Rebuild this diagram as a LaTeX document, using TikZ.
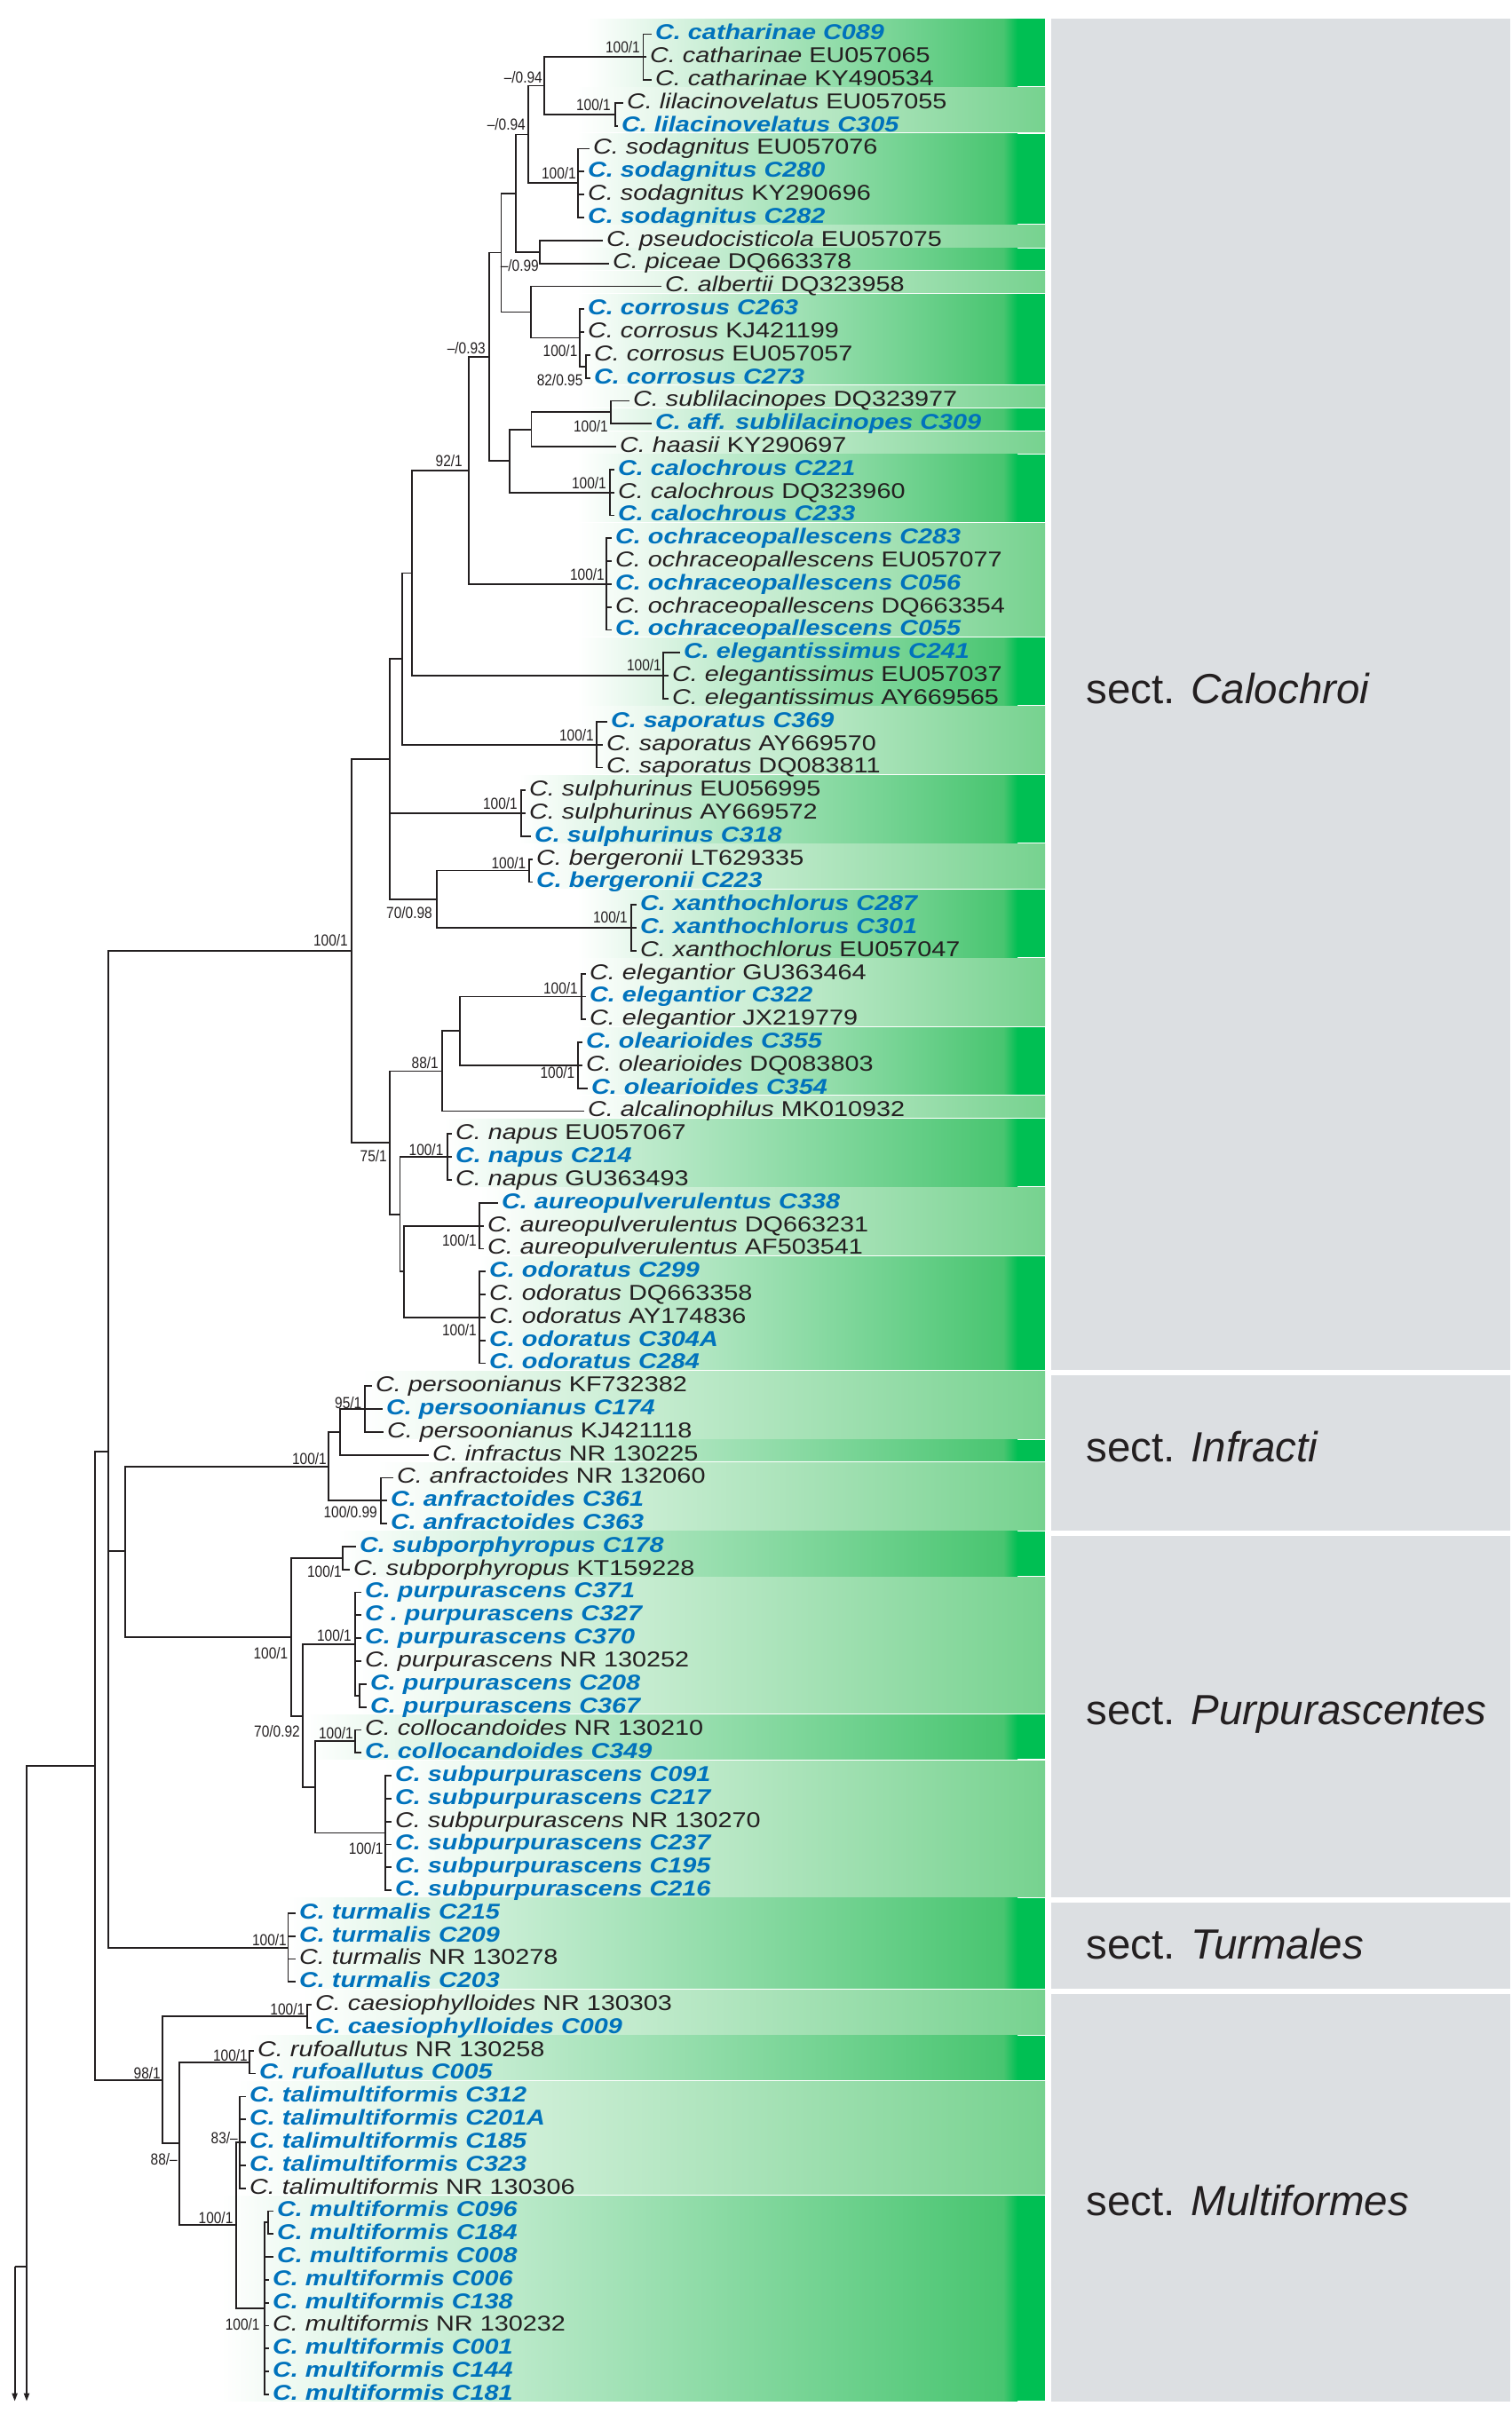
\documentclass[tikz,border=0pt]{standalone}
\usepackage{fontspec}
\setmainfont{Liberation Sans}
\newfontfamily\leaffam{Liberation Sans}[FakeStretch=1.19]
\newfontfamily\suppfam{Liberation Sans}[FakeStretch=0.86]
\usetikzlibrary{arrows.meta}

\definecolor{ink}{RGB}{35,31,32}
\definecolor{cblue}{RGB}{0,114,188}
\definecolor{gdark}{RGB}{0,191,83}
\definecolor{gmid}{RGB}{72,197,112}
\definecolor{glight}{RGB}{118,210,143}
\definecolor{panelgray}{RGB}{220,223,226}

\newcommand{\taxon}[2]{\textit{C. #1} #2}
\newcommand{\isolate}[2]{\textcolor{cblue}{\bfseries\itshape C. #1 #2}}
\newcommand{\darkband}[3]{%
  \shade[left color=white, right color=gmid] ({#1},{#2-0.66}) rectangle (1130,{#3+0.28});
  \shade[left color=gmid, right color=gdark] (1130,{#2-0.66}) rectangle (1146,{#3+0.28});
  \fill[gdark] (1146,{#2-0.66}) rectangle (1177,{#3+0.28});}
\newcommand{\lightband}[3]{%
  \shade[left color=white, right color=glight] ({#1},{#2-0.66}) rectangle (1177,{#3+0.28});}

\begin{document}
\fontsize{24.2}{26}\selectfont
\begin{tikzpicture}[
        x=1pt, y=-25.81pt,
        leaf/.style={anchor=mid west, inner xsep=4pt, inner ysep=0pt, text=ink,
            font=\leaffam\fontsize{24.2}{26}\selectfont},
        supp/.style={anchor=east, inner sep=0pt, text=ink,
            font=\suppfam\fontsize{18}{19}\selectfont},
        sect/.style={anchor=base west, inner sep=0pt, text=ink,
            font=\fontsize{47.5}{50}\selectfont},
        branch/.style={draw=ink, line width=1.8pt},
        >={Triangle[length=9pt, width=6pt]},
    ]
    \useasboundingbox (0,-0.4917) rectangle (1703,104.856);

    % section panels
    \fill[panelgray] (1184,0.31) rectangle (1701,59.29);
    \fill[panelgray] (1184,59.52) rectangle (1701,66.29);
    \fill[panelgray] (1184,66.52) rectangle (1701,82.29);
    \fill[panelgray] (1184,82.52) rectangle (1701,86.29);
    \fill[panelgray] (1184,86.52) rectangle (1701,104.31);
    \node[sect] (secCal) at (1223.5,30.22) {sect. \textit{Calochroi}};
    \node[sect] (secInf) at (1223.5,63.31) {sect. \textit{Infracti}};
    \node[sect] (secPur) at (1223.5,74.78) {sect. \textit{Purpurascentes}};
    \node[sect] (secTur) at (1223.5,85.01) {sect. \textit{Turmales}};
    \node[sect] (secMul) at (1223.5,96.18) {sect. \textit{Multiformes}};

    % species bands
    \darkband{660}{1}{3}
    \lightband{650}{4}{5}
    \darkband{650}{6}{9}
    \lightband{650}{10}{10}
    \darkband{650}{11}{11}
    \lightband{650}{12}{12}
    \darkband{650}{13}{16}
    \lightband{650}{17}{17}
    \darkband{650}{18}{18}
    \lightband{650}{19}{19}
    \darkband{650}{20}{22}
    \lightband{650}{23}{27}
    \darkband{650}{28}{30}
    \lightband{650}{31}{33}
    \darkband{585}{34}{36}
    \lightband{595}{37}{38}
    \darkband{650}{39}{41}
    \lightband{650}{42}{44}
    \darkband{650}{45}{47}
    \lightband{650}{48}{48}
    \darkband{500}{49}{51}
    \lightband{540}{52}{54}
    \darkband{540}{55}{59}
    \lightband{408}{60}{62}
    \darkband{480}{63}{63}
    \lightband{425}{64}{66}
    \darkband{381}{67}{68}
    \lightband{400}{69}{74}
    \darkband{343}{75}{76}
    \lightband{432}{77}{82}
    \darkband{324}{83}{86}
    \lightband{340}{87}{88}
    \darkband{280}{89}{90}
    \lightband{268}{91}{95}
    \darkband{249}{96}{104}

    % leaves
    \node[leaf] (l1)   at (734,1)   {\isolate{catharinae}{C089}};
    \node[leaf] (l2)   at (728,2)   {\taxon{catharinae}{EU057065}};
    \node[leaf] (l3)   at (734,3)   {\taxon{catharinae}{KY490534}};
    \node[leaf] (l4)   at (702,4)   {\taxon{lilacinovelatus}{EU057055}};
    \node[leaf] (l5)   at (696,5)   {\isolate{lilacinovelatus}{C305}};
    \node[leaf] (l6)   at (664,6)   {\taxon{sodagnitus}{EU057076}};
    \node[leaf] (l7)   at (658,7)   {\isolate{sodagnitus}{C280}};
    \node[leaf] (l8)   at (658,8)   {\taxon{sodagnitus}{KY290696}};
    \node[leaf] (l9)   at (658,9)   {\isolate{sodagnitus}{C282}};
    \node[leaf] (l10)  at (679,10)  {\taxon{pseudocisticola}{EU057075}};
    \node[leaf] (l11)  at (686,11)  {\taxon{piceae}{DQ663378}};
    \node[leaf] (l12)  at (745,12)  {\taxon{albertii}{DQ323958}};
    \node[leaf] (l13)  at (658,13)  {\isolate{corrosus}{C263}};
    \node[leaf] (l14)  at (658,14)  {\taxon{corrosus}{KJ421199}};
    \node[leaf] (l15)  at (665,15)  {\taxon{corrosus}{EU057057}};
    \node[leaf] (l16)  at (665,16)  {\isolate{corrosus}{C273}};
    \node[leaf] (l17)  at (709,17)  {\taxon{sublilacinopes}{DQ323977}};
    \node[leaf] (l18)  at (734,18)  {\isolate{aff. sublilacinopes}{C309}};
    \node[leaf] (l19)  at (694,19)  {\taxon{haasii}{KY290697}};
    \node[leaf] (l20)  at (692,20)  {\isolate{calochrous}{C221}};
    \node[leaf] (l21)  at (692,21)  {\taxon{calochrous}{DQ323960}};
    \node[leaf] (l22)  at (692,22)  {\isolate{calochrous}{C233}};
    \node[leaf] (l23)  at (689,23)  {\isolate{ochraceopallescens}{C283}};
    \node[leaf] (l24)  at (689,24)  {\taxon{ochraceopallescens}{EU057077}};
    \node[leaf] (l25)  at (689,25)  {\isolate{ochraceopallescens}{C056}};
    \node[leaf] (l26)  at (689,26)  {\taxon{ochraceopallescens}{DQ663354}};
    \node[leaf] (l27)  at (689,27)  {\isolate{ochraceopallescens}{C055}};
    \node[leaf] (l28)  at (766,28)  {\isolate{elegantissimus}{C241}};
    \node[leaf] (l29)  at (753,29)  {\taxon{elegantissimus}{EU057037}};
    \node[leaf] (l30)  at (753,30)  {\taxon{elegantissimus}{AY669565}};
    \node[leaf] (l31)  at (684,31)  {\isolate{saporatus}{C369}};
    \node[leaf] (l32)  at (679,32)  {\taxon{saporatus}{AY669570}};
    \node[leaf] (l33)  at (679,33)  {\taxon{saporatus}{DQ083811}};
    \node[leaf] (l34)  at (592,34)  {\taxon{sulphurinus}{EU056995}};
    \node[leaf] (l35)  at (592,35)  {\taxon{sulphurinus}{AY669572}};
    \node[leaf] (l36)  at (598,36)  {\isolate{sulphurinus}{C318}};
    \node[leaf] (l37)  at (600,37)  {\taxon{bergeronii}{LT629335}};
    \node[leaf] (l38)  at (600,38)  {\isolate{bergeronii}{C223}};
    \node[leaf] (l39)  at (717,39)  {\isolate{xanthochlorus}{C287}};
    \node[leaf] (l40)  at (717,40)  {\isolate{xanthochlorus}{C301}};
    \node[leaf] (l41)  at (717,41)  {\taxon{xanthochlorus}{EU057047}};
    \node[leaf] (l42)  at (660,42)  {\taxon{elegantior}{GU363464}};
    \node[leaf] (l43)  at (660,43)  {\isolate{elegantior}{C322}};
    \node[leaf] (l44)  at (660,44)  {\taxon{elegantior}{JX219779}};
    \node[leaf] (l45)  at (656,45)  {\isolate{olearioides}{C355}};
    \node[leaf] (l46)  at (656,46)  {\taxon{olearioides}{DQ083803}};
    \node[leaf] (l47)  at (662,47)  {\isolate{olearioides}{C354}};
    \node[leaf] (l48)  at (658,48)  {\taxon{alcalinophilus}{MK010932}};
    \node[leaf] (l49)  at (509,49)  {\taxon{napus}{EU057067}};
    \node[leaf] (l50)  at (509,50)  {\isolate{napus}{C214}};
    \node[leaf] (l51)  at (509,51)  {\taxon{napus}{GU363493}};
    \node[leaf] (l52)  at (561,52)  {\isolate{aureopulverulentus}{C338}};
    \node[leaf] (l53)  at (545,53)  {\taxon{aureopulverulentus}{DQ663231}};
    \node[leaf] (l54)  at (545,54)  {\taxon{aureopulverulentus}{AF503541}};
    \node[leaf] (l55)  at (547,55)  {\isolate{odoratus}{C299}};
    \node[leaf] (l56)  at (547,56)  {\taxon{odoratus}{DQ663358}};
    \node[leaf] (l57)  at (547,57)  {\taxon{odoratus}{AY174836}};
    \node[leaf] (l58)  at (547,58)  {\isolate{odoratus}{C304A}};
    \node[leaf] (l59)  at (547,59)  {\isolate{odoratus}{C284}};
    \node[leaf] (l60)  at (419,60)  {\taxon{persoonianus}{KF732382}};
    \node[leaf] (l61)  at (431,61)  {\isolate{persoonianus}{C174}};
    \node[leaf] (l62)  at (432,62)  {\taxon{persoonianus}{KJ421118}};
    \node[leaf] (l63)  at (483,63)  {\taxon{infractus}{NR 130225}};
    \node[leaf] (l64)  at (443,64)  {\taxon{anfractoides}{NR 132060}};
    \node[leaf] (l65)  at (436,65)  {\isolate{anfractoides}{C361}};
    \node[leaf] (l66)  at (436,66)  {\isolate{anfractoides}{C363}};
    \node[leaf] (l67)  at (401,67)  {\isolate{subporphyropus}{C178}};
    \node[leaf] (l68)  at (394,68)  {\taxon{subporphyropus}{KT159228}};
    \node[leaf] (l69)  at (407,69)  {\isolate{purpurascens}{C371}};
    \node[leaf] (l70)  at (407,70)  {\textcolor{cblue}{\bfseries\itshape C . purpurascens C327}};
    \node[leaf] (l71)  at (407,71)  {\isolate{purpurascens}{C370}};
    \node[leaf] (l72)  at (407,72)  {\taxon{purpurascens}{NR 130252}};
    \node[leaf] (l73)  at (413,73)  {\isolate{purpurascens}{C208}};
    \node[leaf] (l74)  at (413,74)  {\isolate{purpurascens}{C367}};
    \node[leaf] (l75)  at (407,75)  {\taxon{collocandoides}{NR 130210}};
    \node[leaf] (l76)  at (407,76)  {\isolate{collocandoides}{C349}};
    \node[leaf] (l77)  at (441,77)  {\isolate{subpurpurascens}{C091}};
    \node[leaf] (l78)  at (441,78)  {\isolate{subpurpurascens}{C217}};
    \node[leaf] (l79)  at (441,79)  {\taxon{subpurpurascens}{NR 130270}};
    \node[leaf] (l80)  at (441,80)  {\isolate{subpurpurascens}{C237}};
    \node[leaf] (l81)  at (441,81)  {\isolate{subpurpurascens}{C195}};
    \node[leaf] (l82)  at (441,82)  {\isolate{subpurpurascens}{C216}};
    \node[leaf] (l83)  at (333,83)  {\isolate{turmalis}{C215}};
    \node[leaf] (l84)  at (333,84)  {\isolate{turmalis}{C209}};
    \node[leaf] (l85)  at (333,85)  {\taxon{turmalis}{NR 130278}};
    \node[leaf] (l86)  at (333,86)  {\isolate{turmalis}{C203}};
    \node[leaf] (l87)  at (351,87)  {\taxon{caesiophylloides}{NR 130303}};
    \node[leaf] (l88)  at (351,88)  {\isolate{caesiophylloides}{C009}};
    \node[leaf] (l89)  at (286,89)  {\taxon{rufoallutus}{NR 130258}};
    \node[leaf] (l90)  at (288,90)  {\isolate{rufoallutus}{C005}};
    \node[leaf] (l91)  at (277,91)  {\isolate{talimultiformis}{C312}};
    \node[leaf] (l92)  at (277,92)  {\isolate{talimultiformis}{C201A}};
    \node[leaf] (l93)  at (277,93)  {\isolate{talimultiformis}{C185}};
    \node[leaf] (l94)  at (277,94)  {\isolate{talimultiformis}{C323}};
    \node[leaf] (l95)  at (277,95)  {\taxon{talimultiformis}{NR 130306}};
    \node[leaf] (l96)  at (308,96)  {\isolate{multiformis}{C096}};
    \node[leaf] (l97)  at (308,97)  {\isolate{multiformis}{C184}};
    \node[leaf] (l98)  at (308,98)  {\isolate{multiformis}{C008}};
    \node[leaf] (l99)  at (303,99)  {\isolate{multiformis}{C006}};
    \node[leaf] (l100) at (303,100) {\isolate{multiformis}{C138}};
    \node[leaf] (l101) at (303,101) {\taxon{multiformis}{NR 130232}};
    \node[leaf] (l102) at (303,102) {\isolate{multiformis}{C001}};
    \node[leaf] (l103) at (303,103) {\isolate{multiformis}{C144}};
    \node[leaf] (l104) at (303,104) {\isolate{multiformis}{C181}};

    % internal nodes
    \coordinate (cath)      at (724.5,2);
    \coordinate (lila)      at (693,4.5);
    \coordinate (n1)        at (613,3.25);
    \coordinate (soda)      at (651,7.5);
    \coordinate (n2)        at (595,5.375);
    \coordinate (n3)        at (608,10.5);
    \coordinate (n4)        at (581,7.94);
    \coordinate (corr2)     at (660,15.5);
    \coordinate (corr)      at (653,14.25);
    \coordinate (n5)        at (598,13.125);
    \coordinate (n6)        at (564.5,10.53);
    \coordinate (subl)      at (688,17.5);
    \coordinate (n7)        at (598.5,18.25);
    \coordinate (calo)      at (687,21);
    \coordinate (n8)        at (573.6,19.63);
    \coordinate (n9)        at (551,15.08);
    \coordinate (ochr)      at (683,25);
    \coordinate (n10)       at (528,20.04);
    \coordinate (elgs)      at (747,29);
    \coordinate (n11)       at (464,24.52);
    \coordinate (sapo)      at (672,32);
    \coordinate (n12)       at (453,28.26);
    \coordinate (sulp)      at (587,35);
    \coordinate (berg)      at (596,37.5);
    \coordinate (xant)      at (711,40);
    \coordinate (n13)       at (492,38.75);
    \coordinate (n14)       at (439,32.63);
    \coordinate (elgt)      at (655,43);
    \coordinate (olea)      at (651,46);
    \coordinate (n15)       at (518,44.5);
    \coordinate (n16)       at (498,46.25);
    \coordinate (napu)      at (504,50);
    \coordinate (aure)      at (540,53);
    \coordinate (odor)      at (540,57);
    \coordinate (n17)       at (455,55);
    \coordinate (n18)       at (450.5,52.5);
    \coordinate (n19)       at (439,49.375);
    \coordinate (calochroi) at (396,41);
    \coordinate (pers)      at (411,61);
    \coordinate (n20)       at (383,62);
    \coordinate (anfr)      at (429,65);
    \coordinate (infracti)  at (370,63.5);
    \coordinate (subp)      at (386,67.5);
    \coordinate (purp2)     at (405,73.5);
    \coordinate (purp)      at (400,71.25);
    \coordinate (coll)      at (400,75.5);
    \coordinate (subu)      at (434,79.5);
    \coordinate (n21)       at (355,77.5);
    \coordinate (n22)       at (341,74.4);
    \coordinate (purpura)   at (328,70.95);
    \coordinate (n23)       at (141,67.2);
    \coordinate (turm)      at (324.5,84.5);
    \coordinate (n24)       at (122,62.86);
    \coordinate (caes)      at (346,87.5);
    \coordinate (rufo)      at (281,89.5);
    \coordinate (tali)      at (270,93);
    \coordinate (mult2)     at (302,96.5);
    \coordinate (mult)      at (298,100.25);
    \coordinate (n25)       at (266,96.6);
    \coordinate (n26)       at (202,93.05);
    \coordinate (multif)    at (183,90.28);
    \coordinate (n27)       at (107,76.57);
    \coordinate (root)      at (30,98.42);
    \coordinate (base)      at (16.6,98.42);
    \coordinate (out1)      at (30,104.3);
    \coordinate (out2)      at (16.6,104.3);

    % branches
    \draw[branch] (cath) |- (l1.mid west) (cath) |- (l2.mid west) (cath) |- (l3.mid west);
    \draw[branch] (lila) |- (l4.mid west) (lila) |- (l5.mid west);
    \draw[branch] (n1) |- (cath) (n1) |- (lila);
    \draw[branch] (soda) |- (l6.mid west) (soda) |- (l7.mid west) (soda) |- (l8.mid west) (soda) |- (l9.mid west);
    \draw[branch] (n2) |- (n1) (n2) |- (soda);
    \draw[branch] (n3) |- (l10.mid west) (n3) |- (l11.mid west);
    \draw[branch] (n4) |- (n2) (n4) |- (n3);
    \draw[branch] (corr2) |- (l15.mid west) (corr2) |- (l16.mid west);
    \draw[branch] (corr) |- (l13.mid west) (corr) |- (l14.mid west) (corr) |- (corr2);
    \draw[branch] (n5) |- (l12.mid west) (n5) |- (corr);
    \draw[branch] (n6) |- (n4) (n6) |- (n5);
    \draw[branch] (subl) |- (l17.mid west) (subl) |- (l18.mid west);
    \draw[branch] (n7) |- (subl) (n7) |- (l19.mid west);
    \draw[branch] (calo) |- (l20.mid west) (calo) |- (l21.mid west) (calo) |- (l22.mid west);
    \draw[branch] (n8) |- (n7) (n8) |- (calo);
    \draw[branch] (n9) |- (n6) (n9) |- (n8);
    \draw[branch] (ochr) |- (l23.mid west) (ochr) |- (l24.mid west) (ochr) |- (l25.mid west)
        (ochr) |- (l26.mid west) (ochr) |- (l27.mid west);
    \draw[branch] (n10) |- (n9) (n10) |- (ochr);
    \draw[branch] (elgs) |- (l28.mid west) (elgs) |- (l29.mid west) (elgs) |- (l30.mid west);
    \draw[branch] (n11) |- (n10) (n11) |- (elgs);
    \draw[branch] (sapo) |- (l31.mid west) (sapo) |- (l32.mid west) (sapo) |- (l33.mid west);
    \draw[branch] (n12) |- (n11) (n12) |- (sapo);
    \draw[branch] (sulp) |- (l34.mid west) (sulp) |- (l35.mid west) (sulp) |- (l36.mid west);
    \draw[branch] (berg) |- (l37.mid west) (berg) |- (l38.mid west);
    \draw[branch] (xant) |- (l39.mid west) (xant) |- (l40.mid west) (xant) |- (l41.mid west);
    \draw[branch] (n13) |- (berg) (n13) |- (xant);
    \draw[branch] (n14) |- (n12) (n14) |- (sulp) (n14) |- (n13);
    \draw[branch] (elgt) |- (l42.mid west) (elgt) |- (l43.mid west) (elgt) |- (l44.mid west);
    \draw[branch] (olea) |- (l45.mid west) (olea) |- (l46.mid west) (olea) |- (l47.mid west);
    \draw[branch] (n15) |- (elgt) (n15) |- (olea);
    \draw[branch] (n16) |- (n15) (n16) |- (l48.mid west);
    \draw[branch] (napu) |- (l49.mid west) (napu) |- (l50.mid west) (napu) |- (l51.mid west);
    \draw[branch] (aure) |- (l52.mid west) (aure) |- (l53.mid west) (aure) |- (l54.mid west);
    \draw[branch] (odor) |- (l55.mid west) (odor) |- (l56.mid west) (odor) |- (l57.mid west)
        (odor) |- (l58.mid west) (odor) |- (l59.mid west);
    \draw[branch] (n17) |- (aure) (n17) |- (odor);
    \draw[branch] (n18) |- (napu) (n18) |- (n17);
    \draw[branch] (n19) |- (n16) (n19) |- (n18);
    \draw[branch] (calochroi) |- (n14) (calochroi) |- (n19);
    \draw[branch] (pers) |- (l60.mid west) (pers) |- (l61.mid west) (pers) |- (l62.mid west);
    \draw[branch] (n20) |- (pers) (n20) |- (l63.mid west);
    \draw[branch] (anfr) |- (l64.mid west) (anfr) |- (l65.mid west) (anfr) |- (l66.mid west);
    \draw[branch] (infracti) |- (n20) (infracti) |- (anfr);
    \draw[branch] (subp) |- (l67.mid west) (subp) |- (l68.mid west);
    \draw[branch] (purp2) |- (l73.mid west) (purp2) |- (l74.mid west);
    \draw[branch] (purp) |- (l69.mid west) (purp) |- (l70.mid west) (purp) |- (l71.mid west)
        (purp) |- (l72.mid west) (purp) |- (purp2);
    \draw[branch] (coll) |- (l75.mid west) (coll) |- (l76.mid west);
    \draw[branch] (subu) |- (l77.mid west) (subu) |- (l78.mid west) (subu) |- (l79.mid west)
        (subu) |- (l80.mid west) (subu) |- (l81.mid west) (subu) |- (l82.mid west);
    \draw[branch] (n21) |- (coll) (n21) |- (subu);
    \draw[branch] (n22) |- (purp) (n22) |- (n21);
    \draw[branch] (purpura) |- (subp) (purpura) |- (n22);
    \draw[branch] (n23) |- (infracti) (n23) |- (purpura);
    \draw[branch] (turm) |- (l83.mid west) (turm) |- (l84.mid west) (turm) |- (l85.mid west) (turm) |- (l86.mid west);
    \draw[branch] (n24) |- (calochroi) (n24) |- (n23) (n24) |- (turm);
    \draw[branch] (caes) |- (l87.mid west) (caes) |- (l88.mid west);
    \draw[branch] (rufo) |- (l89.mid west) (rufo) |- (l90.mid west);
    \draw[branch] (tali) |- (l91.mid west) (tali) |- (l92.mid west) (tali) |- (l93.mid west)
        (tali) |- (l94.mid west) (tali) |- (l95.mid west);
    \draw[branch] (mult2) |- (l96.mid west) (mult2) |- (l97.mid west);
    \draw[branch] (mult) |- (mult2) (mult) |- (l98.mid west) (mult) |- (l99.mid west) (mult) |- (l100.mid west)
        (mult) |- (l101.mid west) (mult) |- (l102.mid west) (mult) |- (l103.mid west) (mult) |- (l104.mid west);
    \draw[branch] (n25) |- (tali) (n25) |- (mult);
    \draw[branch] (n26) |- (rufo) (n26) |- (n25);
    \draw[branch] (multif) |- (caes) (multif) |- (n26);
    \draw[branch] (n27) |- (n24) (n27) |- (multif);
    \draw[branch] (root) |- (n27);
    \draw[branch] (base) -- (root);
    \draw[branch, ->] (root) -- (out1);
    \draw[branch, ->] (base) -- (out2);

    % support values
    \node[supp] (s1)  at (721,1.55)    {100/1};
    \node[supp] (s2)  at (611,2.89)    {\textendash/0.94};
    \node[supp] (s3)  at (688,4.09)    {100/1};
    \node[supp] (s4)  at (592,4.93)    {\textendash/0.94};
    \node[supp] (s5)  at (649,7.06)    {100/1};
    \node[supp] (s6)  at (607,11.10)   {\textendash/0.99};
    \node[supp] (s7)  at (650.6,14.81) {100/1};
    \node[supp] (s8)  at (656.6,16.08) {82/0.95};
    \node[supp] (s9)  at (547,14.68)   {\textendash/0.93};
    \node[supp] (s10) at (685,18.1)    {100/1};
    \node[supp] (s11) at (521,19.63)   {92/1};
    \node[supp] (s12) at (683,20.59)   {100/1};
    \node[supp] (s13) at (681,24.56)   {100/1};
    \node[supp] (s14) at (745,28.53)   {100/1};
    \node[supp] (s15) at (669,31.6)    {100/1};
    \node[supp] (s16) at (583,34.57)   {100/1};
    \node[supp] (s17) at (592.5,37.16) {100/1};
    \node[supp] (s18) at (487,39.35)   {70/0.98};
    \node[supp] (s19) at (707,39.54)   {100/1};
    \node[supp] (s20) at (392,40.55)   {100/1};
    \node[supp] (s21) at (651,42.64)   {100/1};
    \node[supp] (s22) at (494,45.87)   {88/1};
    \node[supp] (s23) at (647.5,46.32) {100/1};
    \node[supp] (s24) at (499.6,49.68) {100/1};
    \node[supp] (s25) at (436,49.94)   {75/1};
    \node[supp] (s26) at (537,53.62)   {100/1};
    \node[supp] (s27) at (537,57.56)   {100/1};
    \node[supp] (s28) at (407.5,60.72) {95/1};
    \node[supp] (s29) at (368,63.18)   {100/1};
    \node[supp] (s30) at (425,65.5)    {100/0.99};
    \node[supp] (s31) at (385,68.09)   {100/1};
    \node[supp] (s32) at (396,70.87)   {100/1};
    \node[supp] (s33) at (324.5,71.64) {100/1};
    \node[supp] (s34) at (338,75.06)   {70/0.92};
    \node[supp] (s35) at (398,75.13)   {100/1};
    \node[supp] (s36) at (431.7,80.16) {100/1};
    \node[supp] (s37) at (323,84.17)   {100/1};
    \node[supp] (s38) at (343.4,87.2)  {100/1};
    \node[supp] (s39) at (279,89.2)    {100/1};
    \node[supp] (s40) at (181,89.98)   {98/1};
    \node[supp] (s41) at (268,92.82)   {83/\textendash};
    \node[supp] (s42) at (200,93.72)   {88/\textendash};
    \node[supp] (s43) at (262.6,96.3)  {100/1};
    \node[supp] (s44) at (292.8,100.95) {100/1};
\end{tikzpicture}
\end{document}
